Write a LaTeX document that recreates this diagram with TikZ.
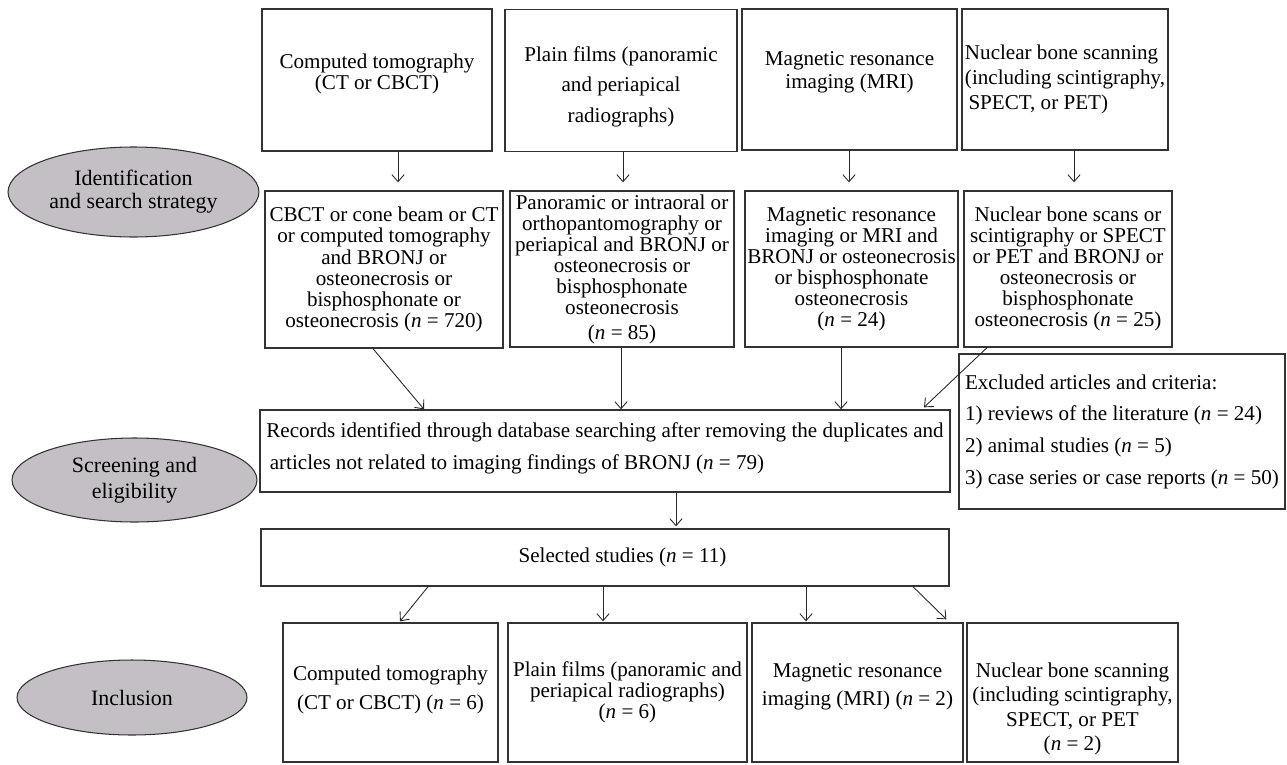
\documentclass[tikz,border=0pt]{standalone}
\usepackage{fontspec}
\setmainfont{Liberation Serif}
\usepackage{tikz}
\usetikzlibrary{arrows.meta,calc,shapes.geometric}

\definecolor{stagefill}{RGB}{196,190,197}
\newcommand{\nn}{\textit{n}}

\begin{document}
\begin{tikzpicture}[x=0.02cm,y=-0.02cm,
  box/.style={draw=black!80,line width=0.8pt,rectangle,inner sep=1pt,align=center,font=\fontsize{12}{12}\selectfont},
  stage/.style={draw=black!80,line width=0.6pt,ellipse,fill=stagefill,inner sep=0pt,align=center,font=\fontsize{12.5}{13}\selectfont},
  arr/.style={-{Straight Barb[length=4pt,width=7pt]},line width=0.5pt,black!85}]

\useasboundingbox (0,0) rectangle (1287,764);

% stages
\node[stage,minimum width=5.02cm,minimum height=1.80cm] (ident) at (133.5,192) {Identification\\and search strategy};
\node[stage,minimum width=4.90cm,minimum height=1.68cm] (screen) at (134.5,480) {Screening and\\[2pt]eligibility};
\node[stage,minimum width=4.60cm,minimum height=1.50cm] (incl) at (132,697.5) {Inclusion};

% imaging methods
\node[box,minimum width=4.60cm,minimum height=2.84cm] (ct) at (377,80) {Computed tomography\\(CT or CBCT)\\[-2.3pt]};
\node[box,minimum width=4.64cm,minimum height=2.84cm] (pf) at (621,80.5) {\\[3.6pt]Plain films (panoramic\\[5.5pt]and periapical\\[5.5pt]radiographs)};
\node[box,minimum width=4.30cm,minimum height=2.82cm] (mr) at (849.5,79.5) {Magnetic resonance\\[1pt]imaging (MRI)\\[-1.5pt]};
\node[box,align=left,minimum width=4.12cm,minimum height=2.82cm] (nb) at (1065,79.5) {Nuclear bone scanning\\[2pt](including scintigraphy,\\[2pt]\,SPECT, or PET)};

% search strings
\node[box,minimum width=4.76cm,minimum height=3.14cm] (ctq) at (384,269.5) {CBCT or cone beam or CT\\or computed tomography\\and BRONJ or\\osteonecrosis or\\bisphosphonate or\\osteonecrosis (\nn{} = 720)};
\node[box,minimum width=4.48cm,minimum height=3.12cm] (pfq) at (622,269) {Panoramic or intraoral or\\orthopantomography or\\periapical and BRONJ or\\osteonecrosis or\\bisphosphonate\\osteonecrosis\\[2pt](\nn{} = 85)};
\node[box,minimum width=4.26cm,minimum height=3.12cm] (mrq) at (851.5,269) {Magnetic resonance\\imaging or MRI and\\BRONJ or osteonecrosis\\or bisphosphonate\\osteonecrosis\\(\nn{} = 24)};
\node[box,minimum width=4.16cm,minimum height=3.12cm] (nbq) at (1068,269) {Nuclear bone scans or\\scintigraphy or SPECT\\or PET and BRONJ or\\osteonecrosis or\\bisphosphonate\\osteonecrosis (\nn{} = 25)};

% screening
\node[box,align=left,minimum width=13.80cm,minimum height=1.64cm] (rec) at (605,451) {Records identified through database searching after removing the duplicates and\\[6pt]\,articles not related to imaging findings of BRONJ (\nn{} = 79)\\[-6.7pt]};
\node[box,align=left,minimum width=6.52cm,minimum height=3.10cm] (exc) at (1122,431.5) {Excluded articles and criteria:\\[6pt]1) reviews of the literature (\nn{} = 24)\\[6pt]2) animal studies (\nn{} = 5)\\[6pt]3) case series or case reports (\nn{} = 50)};
\node[box,minimum width=13.76cm,minimum height=1.14cm] (sel) at (605,557.5) {\hspace*{0.7cm}Selected studies (\nn{} = 11)};

% included
\node[box,minimum width=4.30cm,minimum height=2.78cm] (cti) at (390.5,692.5) {Computed tomography\\[4.5pt](CT or CBCT) (\nn{} = 6)\\[-6.7pt]};
\node[box,minimum width=4.78cm,minimum height=2.78cm] (pfi) at (627.5,692.5) {Plain films (panoramic and\\periapical radiographs)\\(\nn{} = 6)};
\node[box,minimum width=4.22cm,minimum height=2.78cm] (mri) at (857.5,692.5) {Magnetic resonance\\[4pt]imaging (MRI) (\nn{} = 2)\\[-2.7pt]};
\node[box,minimum width=4.22cm,minimum height=2.78cm] (nbi) at (1072.5,692.5) {\\[15pt]Nuclear bone scanning\\[2pt](including scintigraphy,\\[2pt]SPECT, or PET\\[2pt](\nn{} = 2)};

% arrows, top row
\draw[arr] ($(ct.south)+(21,0)$) -- ($(ctq.north)+(14,-8)$);
\draw[arr] ($(pf.south)+(2,0)$) -- ($(pfq.north)+(1,-8)$);
\draw[arr] ($(mr.south)+(-0.5,0)$) -- ($(mrq.north)+(-2.5,-8)$);
\draw[arr] ($(nb.south)+(9,0)$) -- ($(nbq.north)+(6,-8)$);

% arrows into records
\draw[arr] ($(ctq.south)+(-11,0)$) -- ($(rec.north)+(-181,0)$);
\draw[arr] ($(pfq.south)+(-1,0)$) -- ($(rec.north)+(16,0)$);
\draw[arr] ($(mrq.south)+(-10.5,0)$) -- ($(rec.north)+(236,0)$);
\draw[arr] ($(nbq.south)+(-81,0)$) -- ($(rec.north)+(319,-2)$);

\draw[arr] ($(rec.south)+(71,0)$) -- ($(sel.north)+(71,-2)$);

% arrows to included
\draw[arr] ($(sel.south)+(-177,0)$) -- ($(cti.north)+(9.5,-1)$);
\draw[arr] ($(sel.south)+(-2,0)$) -- ($(pfi.north)+(-24.5,-1)$);
\draw[arr] ($(sel.south)+(201,0)$) -- ($(mri.north)+(-51.5,-1)$);
\draw[arr] ($(sel.south)+(308,0)$) -- ($(nbi.north west)+(-20,-3)$);

\end{tikzpicture}
\end{document}
